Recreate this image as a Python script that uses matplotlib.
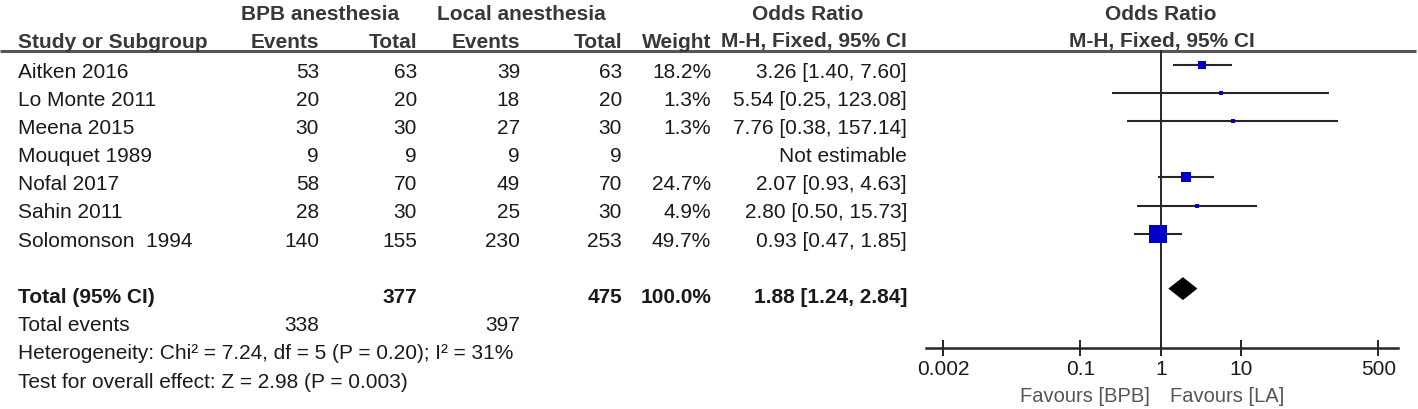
import matplotlib
matplotlib.use("Agg")
import matplotlib.pyplot as plt
from matplotlib.ticker import NullLocator, FixedLocator, FixedFormatter

# ---------------- data ----------------
studies = ["Aitken 2016", "Lo Monte 2011", "Meena 2015", "Mouquet 1989",
           "Nofal 2017", "Sahin 2011", "Solomonson  1994"]
bpb_events = [53, 20, 30, 9, 58, 28, 140]
bpb_total = [63, 20, 30, 9, 70, 30, 155]
la_events = [39, 18, 27, 9, 49, 25, 230]
la_total = [63, 20, 30, 9, 70, 30, 253]
weights = [18.2, 1.3, 1.3, None, 24.7, 4.9, 49.7]
odds = [3.26, 5.54, 7.76, None, 2.07, 2.80, 0.93]
ci_low = [1.40, 0.25, 0.38, None, 0.93, 0.50, 0.47]
ci_high = [7.60, 123.08, 157.14, None, 4.63, 15.73, 1.85]

total_bpb = 377
total_la = 475
total_weight = 100.0
total_or = 1.88
total_low = 1.24
total_high = 2.84
events_bpb = 338
events_la = 397
het_text = "Heterogeneity: Chi\u00b2 = 7.24, df = 5 (P = 0.20); I\u00b2 = 31%"
test_text = "Test for overall effect: Z = 2.98 (P = 0.003)"
xticks = [0.002, 0.1, 1, 10, 500]
xtick_labels = ["0.002", "0.1", "1", "10", "500"]

# ---------------- layout ----------------
W, H = 1418, 409
FONT = "Liberation Sans"
FS = 15
TXT = "#1a1a1a"
HDR = "#383838"
BLUE = "#0000c8"
LINE = "#262626"

plt.rcParams["font.family"] = [FONT, "DejaVu Sans"]

fig = plt.figure(figsize=(W / 100, H / 100), dpi=100, facecolor="white")
ax0 = fig.add_axes([0, 0, 1, 1])
ax0.set_xlim(0, W)
ax0.set_ylim(H, 0)
ax0.axis("off")

x_name = 18
x_bev, x_btot, x_lev, x_ltot, x_w, x_or = 319, 417, 520, 622, 711, 907
row0, dy = 70, 28.2
row_y = [row0 + i * dy for i in range(len(studies))]
y_total = row_y[-1] + 2 * dy
y_events = y_total + dy
y_het = y_events + dy
y_test = y_het + dy
base = 7.5      # offset from row centre to baseline
mark_off = 5.5  # markers sit slightly above the text centre


def t(x, y, s, ha="left", bold=False, color=TXT, fs=FS):
    ax0.text(x, y + base, s, ha=ha, va="baseline", fontsize=fs,
             fontweight="bold" if bold else "normal", color=color)


# headers
t(320, 12, "BPB anesthesia", ha="center", bold=True, color=HDR)
t(521, 12, "Local anesthesia", ha="center", bold=True, color=HDR)
t(808, 12, "Odds Ratio", ha="center", bold=True, color=HDR)
t(1161, 12, "Odds Ratio", ha="center", bold=True, color=HDR)
t(x_name, 40, "Study or Subgroup", bold=True, color=HDR)
t(x_bev, 40, "Events", ha="right", bold=True, color=HDR)
t(x_btot, 40, "Total", ha="right", bold=True, color=HDR)
t(x_lev, 40, "Events", ha="right", bold=True, color=HDR)
t(x_ltot, 40, "Total", ha="right", bold=True, color=HDR)
t(x_w, 40, "Weight", ha="right", bold=True, color=HDR)
t(x_or, 40, "M-H, Fixed, 95% CI", ha="right", bold=True, color=HDR)
t(1162, 40, "M-H, Fixed, 95% CI", ha="center", bold=True, color=HDR)
ax0.plot([0, 1416], [51, 51], color="#555555", lw=2.2, solid_capstyle="butt")

# study rows
for i, y in enumerate(row_y):
    t(x_name, y, studies[i])
    t(x_bev, y, str(bpb_events[i]), ha="right")
    t(x_btot, y, str(bpb_total[i]), ha="right")
    t(x_lev, y, str(la_events[i]), ha="right")
    t(x_ltot, y, str(la_total[i]), ha="right")
    if weights[i] is None:
        t(x_or, y, "Not estimable", ha="right")
    else:
        t(x_w, y, f"{weights[i]:.1f}%", ha="right")
        t(x_or, y, f"{odds[i]:.2f} [{ci_low[i]:.2f}, {ci_high[i]:.2f}]", ha="right")

# totals
t(x_name, y_total, "Total (95% CI)", bold=True)
t(x_btot, y_total, str(total_bpb), ha="right", bold=True)
t(x_ltot, y_total, str(total_la), ha="right", bold=True)
t(x_w, y_total, f"{total_weight:.1f}%", ha="right", bold=True)
t(x_or, y_total, f"{total_or:.2f} [{total_low:.2f}, {total_high:.2f}]", ha="right", bold=True)
t(x_name, y_events, "Total events")
t(x_bev, y_events, str(events_bpb), ha="right")
t(x_lev, y_events, str(events_la), ha="right")
t(x_name, y_het, het_text)
t(x_name, y_test, test_text)

# ---------------- forest panel ----------------
ax_left, ax_right = 926, 1398
lo_log, hi_log = -2.914, 2.943
y_axis = 348
ax = fig.add_axes([ax_left / W, 0, (ax_right - ax_left) / W, 1])
ax.set_xscale("log")
ax.set_xlim(10 ** lo_log, 10 ** hi_log)
ax.set_ylim(H, 0)
ax.patch.set_alpha(0)
for s in ("top", "left", "right"):
    ax.spines[s].set_visible(False)
ax.spines["bottom"].set_position(("data", y_axis))
ax.spines["bottom"].set_linewidth(1.8)
ax.spines["bottom"].set_color(LINE)
ax.set_yticks([])
ax.xaxis.set_major_locator(FixedLocator(xticks))
ax.xaxis.set_major_formatter(FixedFormatter(xtick_labels))
ax.xaxis.set_minor_locator(NullLocator())
ax.tick_params(axis="x", direction="inout", length=11, width=1.4, color=LINE,
               labelsize=FS, labelcolor=TXT, pad=3)

ax.plot([1, 1], [51, y_axis], color=LINE, lw=1.4, zorder=1)

max_w = max(w for w in weights if w is not None)
for i, y in enumerate(row_y):
    if weights[i] is None:
        continue
    ym = y - mark_off
    ax.plot([ci_low[i], ci_high[i]], [ym, ym], color=LINE, lw=1.5, zorder=2,
            solid_capstyle="butt")
    size_px = max(3.5, 18.0 * (weights[i] / max_w) ** 0.8)
    ax.plot([odds[i]], [ym], marker="s", linestyle="none", color=BLUE,
            markersize=size_px * 0.72, markeredgewidth=0, zorder=3)

y_d = y_total - 7
ax.fill([total_low, total_or, total_high, total_or],
        [y_d, y_d - 11.5, y_d, y_d + 11.5], color="black", lw=0, zorder=3)

t(1150, 395, "Favours [BPB]", ha="right", color="#555555", fs=14.5)
t(1170, 395, "Favours [LA]", ha="left", color="#555555", fs=14.5)

fig.savefig("out.png", dpi=100, facecolor="white")
